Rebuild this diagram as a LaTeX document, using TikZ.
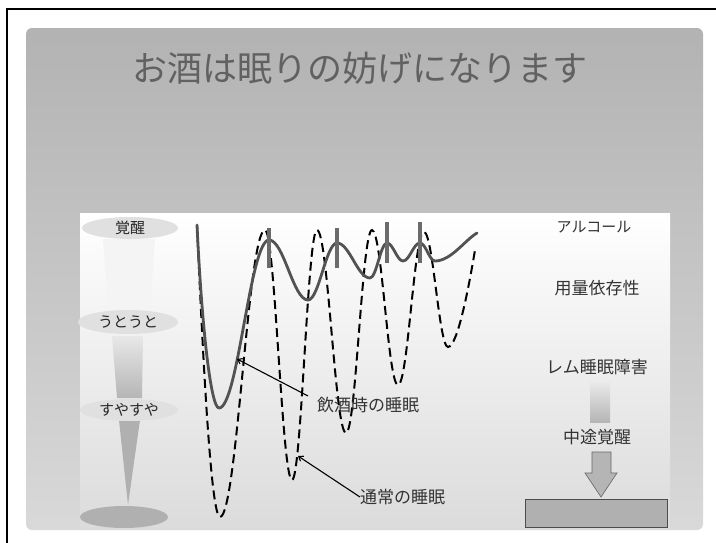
\documentclass[tikz,border=0pt]{standalone}
\usepackage{fontspec}
\setmainfont{Noto Sans CJK JP}
\usetikzlibrary{shapes.geometric,arrows.meta,calc}
\begin{document}
\begin{tikzpicture}[x=1pt,y=-1pt]
\tikzset{
  lbl/.style={font=\fontsize{17}{17}\selectfont, text=black!80, inner sep=0pt},
  lvl/.style={ellipse, fill=gray!24, inner sep=0pt, font=\fontsize{15}{15}\selectfont, text=black!85},
  sleepnow/.style={line width=2.8pt, draw=black!68, line cap=round, line join=round},
  sleepnorm/.style={line width=2pt, draw=black, dash pattern=on 9pt off 5pt},
  wakebar/.style={line width=4.5pt, draw=black!58},
  ptr/.style={line width=1.1pt, draw=black, {Straight Barb[length=4pt,width=6pt]}-},
}
\useasboundingbox (0,0) rectangle (716,542);
\fill[white] (0,0) rectangle (716,542);
% outer frame
\draw[line width=1.4pt] (7,9) rectangle (760,580);
% slide panel
\shade[top color=gray!60, bottom color=gray!30, rounded corners=6pt] (26,28) rectangle (703,530);
\node[font=\fontsize{35}{35}\selectfont, text=black!62, inner sep=0pt] (title) at (360,68) {お酒は眠りの妨げになります};
% content area
\shade[top color=white, middle color=white, bottom color=gray!28] (80,213) rectangle (670,528);

% left column: sleep depth scale
\fill[gray!9] (103,239) -- (155,239) -- (150,311) -- (108,311) -- cycle;
\shade[top color=gray!18, bottom color=gray!58] (112,336) -- (143,336) -- (142,398) -- (117,398) -- cycle;
\fill[gray!62] (119,420) -- (140,420) -- (128,505) -- cycle;
\node[lvl, minimum width=96pt, minimum height=22pt] (e1) at (130,228) {覚醒};
\node[lvl, minimum width=100pt, minimum height=24pt] (e2) at (128,322) {うとうと};
\node[lvl, minimum width=98pt, minimum height=22pt] (e3) at (129,410) {すやすや};
\node[ellipse, fill=gray!62, inner sep=0pt, minimum width=88pt, minimum height=22pt] (e4) at (124,517) {};

% normal sleep (dashed)
\draw[sleepnorm] (197,225)
  .. controls (203,360) and (211,517) .. (220,517)
  .. controls (237,517) and (248,230) .. (265,230)
  .. controls (275,230) and (282,480) .. (292,480)
  .. controls (301.5,480) and (307.5,230) .. (317,230)
  .. controls (328,230) and (335,433) .. (346,433)
  .. controls (356,433) and (362,230) .. (372,230)
  .. controls (382,230) and (388,385) .. (398,385)
  .. controls (408,385) and (414,232) .. (424,232)
  .. controls (433,232) and (439,347) .. (448,347)
  .. controls (458,347) and (470,280) .. (475,250);
% sleep after drinking (solid)
\draw[sleepnow] (197,225)
  .. controls (202,330) and (211,408) .. (219,408)
  .. controls (238,408) and (250,240) .. (269,240)
  .. controls (284,240) and (293,300) .. (308,300)
  .. controls (319,300) and (326,243) .. (337,243)
  .. controls (349.5,243) and (357.5,278) .. (370,278)
  .. controls (376.5,278) and (380.5,243) .. (387,243)
  .. controls (393,243) and (397,261) .. (403,261)
  .. controls (409.5,261) and (413.5,243) .. (420,243)
  .. controls (425.7,243) and (429.3,261) .. (435,261)
  .. controls (451,261) and (465,240) .. (477,233);
% awakenings
\draw[wakebar] (269,228) -- (269,268);
\draw[wakebar] (337,228) -- (337,268);
\draw[wakebar] (387,222) -- (387,263);
\draw[wakebar] (420,222) -- (420,263);

% labels with pointers
\coordinate (p1) at (237,359);
\coordinate (p2) at (298,456);
\node[lbl, anchor=west] (lab1) at (317,405) {飲酒時の睡眠};
\node[lbl, anchor=west] (lab2) at (360,497) {通常の睡眠};
\draw[ptr] (p1) -- ([xshift=-9pt,yshift=1pt]lab1.north west);
\draw[ptr] (p2) -- (lab2.west);

% right column
\node[lbl, font=\fontsize{15}{15}\selectfont] (alc) at (594,227) {アルコール};
\node[lbl] (dose) at (597,288) {用量依存性};
\node[lbl] (rem) at (597,367) {レム睡眠障害};
\shade[top color=gray!15, bottom color=gray!58] (590,380) rectangle (610,422);
\node[lbl] (mid) at (597,437) {中途覚醒};
\filldraw[fill=gray!58, draw=black!60, line width=0.6pt]
  (592,452) -- (611,452) -- (611,473) -- (617,473) -- (601,497) -- (585,473) -- (592,473) -- cycle;
\filldraw[fill=gray!62, draw=black!70, line width=1pt] (525,499) rectangle (667,527);
\end{tikzpicture}
\end{document}
